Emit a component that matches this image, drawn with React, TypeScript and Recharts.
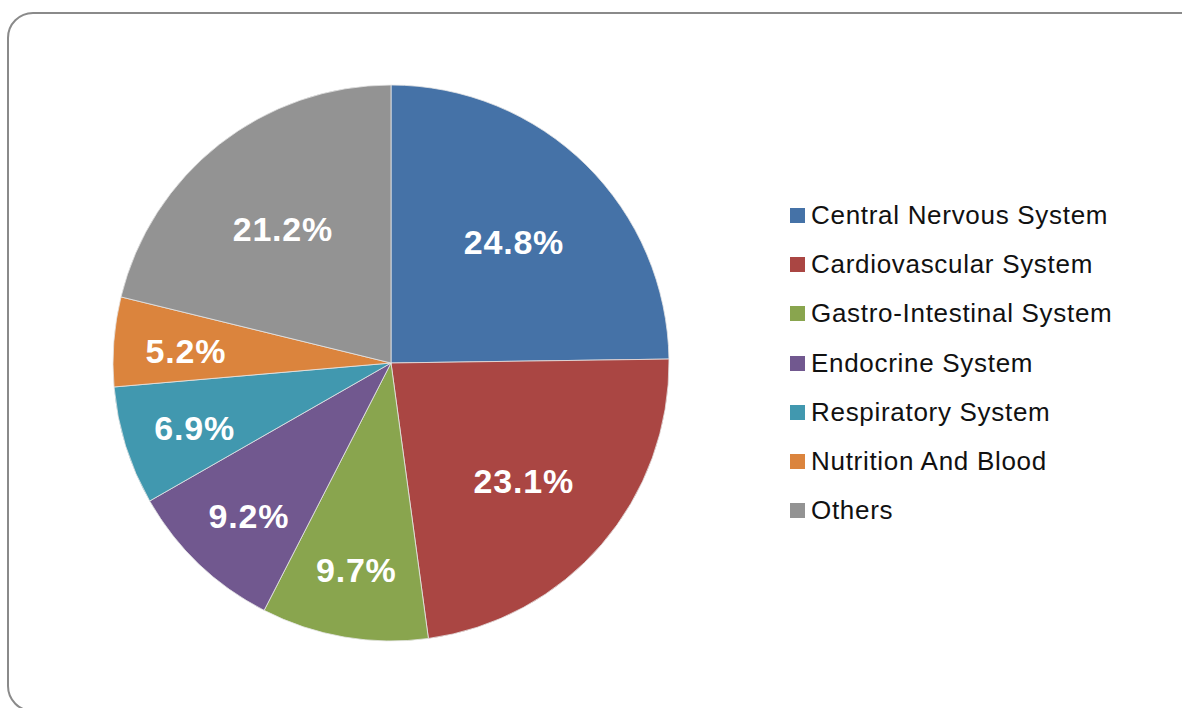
import React from "react";
import { PieChart, Pie, Cell, Legend } from "recharts";

const categories = [
  "Central Nervous System",
  "Cardiovascular System",
  "Gastro-Intestinal System",
  "Endocrine System",
  "Respiratory System",
  "Nutrition And Blood",
  "Others",
];
const values = [24.8, 23.1, 9.7, 9.2, 6.9, 5.2, 21.2];
const colors = ["#4572A7", "#AA4643", "#89A54E", "#71588F", "#4198AF", "#DB843D", "#939393"];

const data = categories.map((name, i) => ({ name, value: values[i] }));

const RAD = Math.PI / 180;

const renderLabel = (props: any) => {
  const { cx, cy, midAngle, outerRadius, index } = props;
  const v = values[index];
  const f = v > 15 ? 0.63 : 0.74;
  const r = outerRadius * f;
  const x = cx + r * Math.cos(-midAngle * RAD);
  const y = cy + r * Math.sin(-midAngle * RAD) + 4;
  return (
    <text
      x={x}
      y={y}
      fill="#ffffff"
      textAnchor="middle"
      dominantBaseline="central"
      fontFamily="'Liberation Sans', Arial, sans-serif"
      fontWeight="bold"
      fontSize={34}
      letterSpacing={0.8}
    >
      {v.toFixed(1) + "%"}
    </text>
  );
};

const renderLegend = () => (
  <div style={{ fontFamily: "'Liberation Sans', Arial, sans-serif", fontSize: 26, color: "#111", letterSpacing: 0.7 }}>
    {categories.map((name, i) => (
      <div key={name} style={{ height: 49.2, display: "flex", alignItems: "center", whiteSpace: "nowrap" }}>
        <span
          style={{
            display: "inline-block",
            width: 15,
            height: 15,
            background: colors[i],
            marginRight: 6,
          }}
        />
        <span>{name}</span>
      </div>
    ))}
  </div>
);

export default function App() {
  return (
    <div style={{ position: "absolute", left: 0, top: 0, width: 1182, height: 708, overflow: "hidden", background: "#fff" }}>
      <div
        style={{
          position: "absolute",
          left: 7,
          top: 12,
          width: 1200,
          height: 700,
          border: "2px solid #8a8a8a",
          borderRadius: 26,
          boxSizing: "border-box",
        }}
      />
      <div style={{ position: "absolute", left: 0, top: 0 }}>
        <PieChart width={1182} height={708} margin={{ top: 0, right: 0, bottom: 0, left: 0 }}>
          <Pie
            data={data}
            dataKey="value"
            nameKey="name"
            cx={391}
            cy={363}
            outerRadius={278}
            startAngle={90}
            endAngle={-270}
            stroke="#e6e6e6"
            strokeWidth={0.8}
            label={renderLabel}
            labelLine={false}
            isAnimationActive={false}
          >
            {data.map((d, i) => (
              <Cell key={d.name} fill={colors[i]} />
            ))}
          </Pie>
          <Legend
            content={renderLegend}
            layout="vertical"
            wrapperStyle={{ position: "absolute", left: 790, top: 191, width: 385 }}
          />
        </PieChart>
      </div>
    </div>
  );
}
